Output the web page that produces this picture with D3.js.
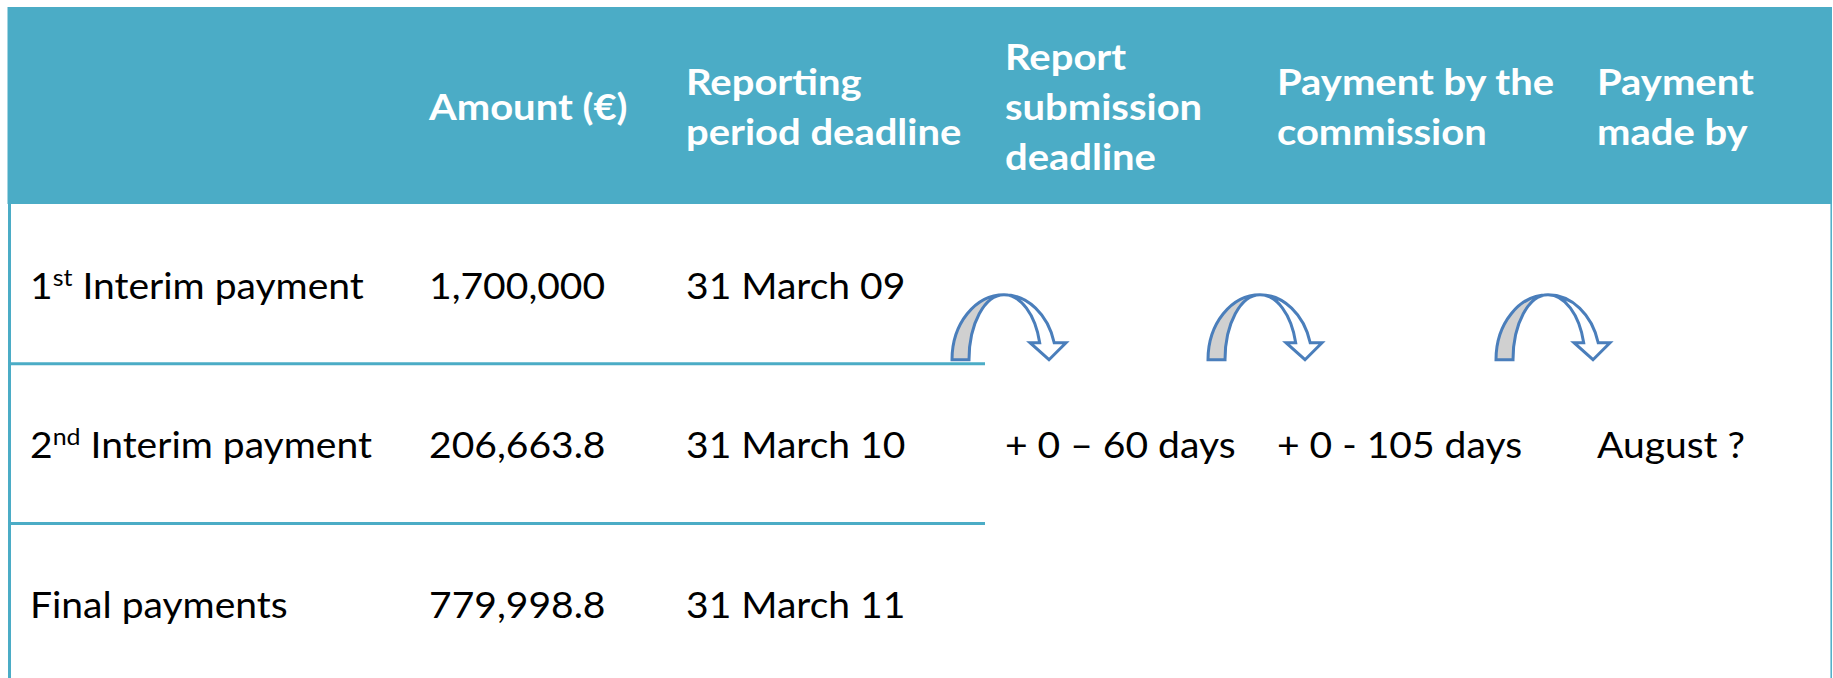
<!DOCTYPE html>
<html>
<head>
<meta charset="utf-8">
<script src="https://cdn.jsdelivr.net/npm/d3@7/dist/d3.min.js"></script>
<style>
  html, body { margin: 0; padding: 0; background: #fff; }
  svg { display: block; }
  text { font-family: Lato, "Open Sans", sans-serif; }
</style>
</head>
<body>
<svg id="chart" width="1833" height="678"></svg>
<script>
// ---------- DATA ----------
const headerLines = [
  [],
  ["Amount (€)"],
  ["Reporting", "period deadline"],
  ["Report", "submission", "deadline"],
  ["Payment by the", "commission"],
  ["Payment", "made by"]
];
const rowOrdinals = ["1", "2", ""];
const rowSuperscripts = ["st", "nd", ""];
const rowNames = [" Interim payment", " Interim payment", "Final payments"];
const amounts = [1700000, 206663.8, 779998.8];
const deadlines = ["31 March 09", "31 March 10", "31 March 11"];
const steps = ["+ 0 – 60 days", "+ 0 - 105 days", "August ?"];

// ---------- LAYOUT ----------
const W = 1833, H = 678;
const teal = "#4BACC6";
const arrowBlue = "#4A7EBB";
const colX = [30, 429, 686, 1005, 1277, 1597];
const arrowX = [952, 1208, 1496];
const headerTop = 7, headerBottom = 204;
const fontSize = 37;
const sxReg = 1.055;
const sxBold = 1.08;

const svg = d3.select("#chart");

const rowScale = d3.scaleBand()
  .domain(d3.range(3))
  .range([headerBottom, headerBottom + 3 * 159.7])
  .paddingInner(0).paddingOuter(0);

const fmt = d3.format(",");

// header background
svg.append("rect")
  .attr("x", 7.5).attr("y", headerTop)
  .attr("width", 1832 - 7.5).attr("height", headerBottom - headerTop)
  .attr("fill", teal);

// left & right borders
svg.append("line")
  .attr("x1", 9.5).attr("x2", 9.5)
  .attr("y1", headerBottom).attr("y2", H)
  .attr("stroke", teal).attr("stroke-width", 3);
svg.append("line")
  .attr("x1", 1831.2).attr("x2", 1831.2)
  .attr("y1", headerBottom).attr("y2", H)
  .attr("stroke", teal).attr("stroke-width", 1.5);

// row separators
svg.selectAll("line.row")
  .data([1, 2])
  .join("line")
  .attr("class", "row")
  .attr("x1", 8).attr("x2", 985)
  .attr("y1", d => rowScale(d)).attr("y2", d => rowScale(d))
  .attr("stroke", teal).attr("stroke-width", 3);

// header text
const lineGap = 50;
const headerCenter = 119.5;
headerLines.forEach((lines, ci) => {
  const n = lines.length;
  lines.forEach((ln, li) => {
    const y = headerCenter + (li - (n - 1) / 2) * lineGap;
    svg.append("text")
      .attr("transform", `translate(${colX[ci]},${y}) scale(${sxBold},1)`)
      .attr("fill", "#fff")
      .attr("font-weight", "bold")
      .attr("font-size", fontSize)
      .text(ln);
  });
});

const baseOff = 94.5;

// row labels
rowNames.forEach((nm, i) => {
  const t = svg.append("text")
    .attr("transform", `translate(${colX[0]},${rowScale(i) + baseOff}) scale(${sxReg},1)`)
    .attr("fill", "#000")
    .attr("font-size", fontSize);
  if (rowOrdinals[i]) {
    t.append("tspan").text(rowOrdinals[i]);
    t.append("tspan").attr("font-size", fontSize * 0.64).attr("dy", -13).text(rowSuperscripts[i]);
    t.append("tspan").attr("dy", 13).text(nm);
  } else {
    t.append("tspan").text(nm);
  }
});

// amounts
svg.selectAll("text.amt")
  .data(amounts)
  .join("text")
  .attr("class", "amt")
  .attr("transform", (d, i) => `translate(${colX[1]},${rowScale(i) + baseOff}) scale(${sxReg},1)`)
  .attr("font-size", fontSize)
  .attr("fill", "#000")
  .text(d => fmt(d));

// deadlines
svg.selectAll("text.dl")
  .data(deadlines)
  .join("text")
  .attr("class", "dl")
  .attr("transform", (d, i) => `translate(${colX[2]},${rowScale(i) + baseOff}) scale(${sxReg},1)`)
  .attr("font-size", fontSize)
  .attr("fill", "#000")
  .text(d => d);

// steps (middle row)
svg.selectAll("text.step")
  .data(steps)
  .join("text")
  .attr("class", "step")
  .attr("transform", (d, i) => `translate(${colX[3 + i]},${rowScale(1) + baseOff}) scale(${sxReg},1)`)
  .attr("font-size", fontSize)
  .attr("fill", "#000")
  .text(d => d);

// curved arrows
const arrowBase = rowScale(1) - 4;
const backPath = "M0,0 A52,65 0 0 1 52,-65 A35,65 0 0 0 17,0 Z";
const frontPath = "M52,-65 A52,65 0 0 1 102.2,-17 L114,-17 L97,0 L78,-17 L87.7,-17 A37,65 0 0 0 52,-65 Z";
const arrows = svg.selectAll("g.arrow")
  .data(arrowX)
  .join("g")
  .attr("class", "arrow")
  .attr("transform", d => `translate(${d},${arrowBase})`);
arrows.append("path")
  .attr("d", backPath)
  .attr("fill", "#D0D0D0")
  .attr("stroke", arrowBlue)
  .attr("stroke-width", 3)
  .attr("stroke-linejoin", "miter");
arrows.append("path")
  .attr("d", frontPath)
  .attr("fill", "#fff")
  .attr("stroke", arrowBlue)
  .attr("stroke-width", 3)
  .attr("stroke-linejoin", "miter");
</script>
</body>
</html>
